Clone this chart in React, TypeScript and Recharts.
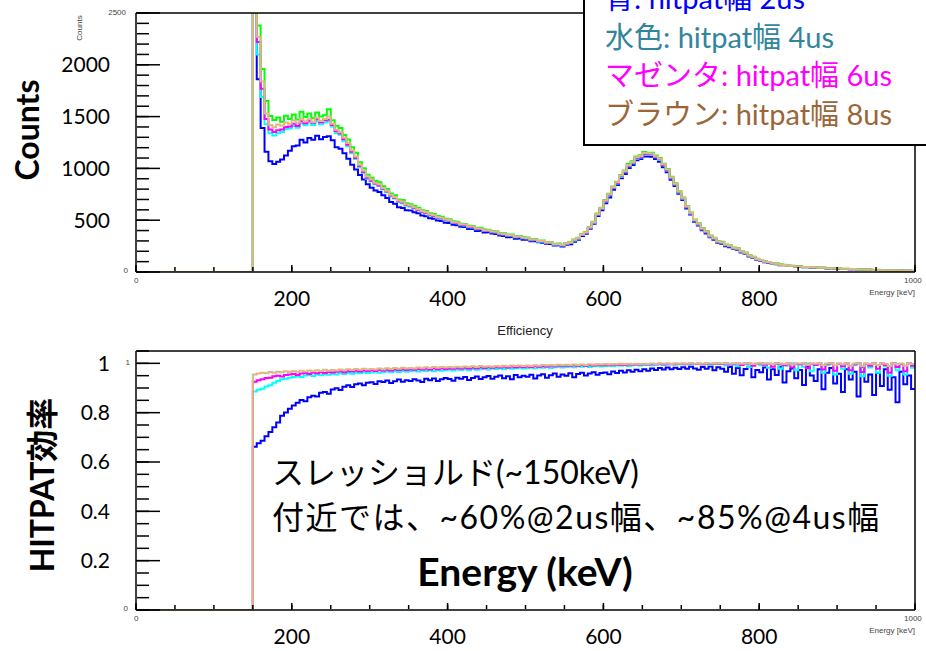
import React from "react";
import { Line, LineChart, XAxis, YAxis } from "recharts";

const FONT = "Lato, 'Noto Sans CJK JP', sans-serif";
const ROOT_FONT = "'Liberation Sans', Arial, sans-serif";

// histogram binning: first bin starts at the threshold, 5 keV per bin
const BIN_START = 150;
const BIN_WIDTH = 5;

// ---- counts per bin (150 .. 995 keV) ----
const blueCounts = [
  3100, 1860, 1390, 1160, 1068, 1042, 1064, 1086, 1124, 1170,
  1214, 1220, 1276, 1250, 1294, 1276, 1314, 1282, 1304, 1310,
  1272, 1205, 1190, 1146, 1094, 1035, 990, 936, 894, 846,
  814, 786, 772, 742, 714, 676, 658, 626, 618, 596,
  594, 576, 568, 546, 538, 520, 514, 496, 492, 476,
  474, 456, 452, 436, 434, 416, 414, 396, 398, 382,
  383, 371, 368, 352, 348, 336, 338, 322, 323, 312,
  312, 297, 298, 286, 283, 272, 270, 257, 258, 247,
  262, 268, 293, 311, 348, 370, 418, 466, 540, 596,
  664, 720, 794, 840, 904, 945, 1004, 1034, 1078, 1090,
  1114, 1116, 1112, 1090, 1064, 1010, 964, 890, 830, 756,
  696, 612, 554, 486, 448, 402, 372, 335, 312, 282,
  272, 249, 240, 221, 214, 189, 175, 150, 137, 118,
  108, 94, 90, 78, 75, 66, 64, 57, 57, 51,
  51, 46, 46, 42, 42, 38, 38, 34, 35, 31,
  32, 29, 29, 26, 27, 23, 24, 21, 21, 19,
  19, 17, 17, 15, 16, 13, 14, 11, 12, 10,
];

const cyanCounts = [
  3250, 2100, 1690, 1425, 1340, 1318, 1340, 1352, 1380, 1386,
  1410, 1392, 1436, 1416, 1446, 1420, 1456, 1426, 1444, 1452,
  1404, 1342, 1324, 1262, 1214, 1146, 1090, 1010, 956, 900,
  874, 846, 830, 796, 770, 730, 710, 676, 664, 640,
  630, 612, 598, 576, 568, 546, 540, 520, 514, 496,
  492, 474, 470, 452, 450, 432, 430, 412, 414, 397,
  396, 383, 381, 364, 362, 349, 351, 335, 337, 325,
  323, 307, 308, 293, 293, 279, 279, 264, 265, 255,
  271, 279, 305, 322, 356, 377, 424, 474, 552, 610,
  680, 740, 810, 855, 920, 962, 1020, 1050, 1094, 1106,
  1134, 1136, 1132, 1108, 1082, 1030, 980, 905, 844, 768,
  707, 624, 564, 496, 459, 412, 384, 343, 321, 289,
  283, 258, 249, 228, 222, 195, 181, 156, 143, 123,
  113, 99, 94, 81, 79, 69, 67, 59, 59, 53,
  53, 47, 47, 44, 44, 40, 40, 36, 37, 33,
  34, 30, 30, 27, 28, 24, 25, 22, 22, 20,
  20, 17, 18, 15, 16, 13, 14, 12, 12, 10,
];

const magentaCounts = [
  3300, 2220, 1770, 1478, 1376, 1352, 1368, 1376, 1400, 1404,
  1430, 1410, 1455, 1436, 1460, 1440, 1474, 1446, 1464, 1470,
  1418, 1362, 1338, 1282, 1228, 1160, 1100, 1022, 966, 910,
  882, 854, 836, 804, 776, 738, 716, 682, 670, 646,
  636, 618, 602, 582, 572, 552, 544, 525, 518, 501,
  496, 478, 474, 456, 454, 436, 434, 416, 417, 400,
  399, 386, 384, 367, 365, 352, 354, 338, 340, 328,
  326, 310, 311, 296, 296, 282, 282, 267, 268, 258,
  274, 282, 308, 325, 359, 380, 428, 478, 556, 614,
  685, 745, 815, 860, 926, 968, 1028, 1056, 1100, 1112,
  1140, 1142, 1138, 1112, 1088, 1034, 985, 910, 848, 772,
  711, 628, 567, 499, 462, 415, 387, 346, 323, 291,
  285, 260, 251, 230, 224, 197, 183, 158, 144, 124,
  114, 100, 95, 82, 79, 70, 67, 60, 59, 53,
  54, 48, 48, 44, 44, 40, 40, 36, 37, 33,
  34, 30, 30, 27, 28, 24, 25, 22, 22, 20,
  20, 17, 18, 16, 16, 13, 14, 12, 12, 10,
];

const greenCounts = [
  3400, 2380, 1960, 1650, 1505, 1468, 1492, 1450, 1508, 1478,
  1520, 1472, 1548, 1496, 1530, 1484, 1540, 1502, 1512, 1570,
  1465, 1412, 1390, 1322, 1280, 1205, 1150, 1060, 1002, 938,
  910, 878, 866, 828, 800, 758, 740, 700, 694, 664,
  655, 636, 620, 596, 590, 566, 560, 540, 534, 515,
  510, 490, 485, 466, 464, 446, 444, 426, 428, 410,
  408, 396, 393, 377, 374, 361, 363, 346, 348, 336,
  333, 317, 318, 302, 303, 287, 288, 272, 274, 262,
  280, 288, 314, 330, 364, 386, 434, 486, 565, 620,
  695, 755, 826, 870, 936, 980, 1042, 1070, 1116, 1128,
  1158, 1152, 1150, 1124, 1100, 1046, 995, 920, 856, 780,
  720, 636, 575, 506, 470, 424, 396, 352, 330, 296,
  292, 266, 258, 236, 230, 202, 188, 162, 148, 128,
  117, 103, 97, 84, 81, 72, 69, 62, 61, 55,
  55, 49, 49, 45, 45, 41, 41, 37, 38, 34,
  35, 31, 31, 28, 29, 25, 26, 23, 23, 20,
  21, 18, 19, 16, 17, 14, 15, 12, 13, 11,
];

const tanCounts = [
  3400, 2270, 1840, 1530, 1418, 1398, 1424, 1412, 1444, 1432,
  1464, 1440, 1480, 1452, 1474, 1448, 1490, 1458, 1476, 1500,
  1432, 1374, 1350, 1298, 1244, 1176, 1116, 1036, 980, 922,
  892, 862, 846, 812, 784, 746, 724, 690, 678, 652,
  642, 624, 608, 588, 578, 558, 550, 530, 524, 506,
  501, 483, 479, 461, 458, 440, 438, 420, 421, 404,
  403, 390, 388, 371, 368, 356, 357, 341, 343, 331,
  329, 313, 314, 299, 299, 285, 285, 270, 271, 260,
  277, 285, 311, 328, 362, 384, 432, 482, 560, 618,
  690, 750, 820, 866, 932, 974, 1034, 1062, 1108, 1120,
  1148, 1146, 1144, 1118, 1094, 1040, 990, 915, 852, 776,
  716, 632, 571, 503, 466, 420, 392, 349, 327, 294,
  288, 263, 254, 233, 227, 200, 186, 160, 146, 126,
  116, 101, 96, 83, 80, 71, 68, 61, 60, 54,
  54, 48, 48, 45, 45, 41, 41, 37, 37, 34,
  35, 31, 31, 28, 28, 25, 25, 22, 23, 20,
  20, 18, 18, 16, 17, 14, 15, 12, 13, 11,
];

// ---- HITPAT efficiency per bin (150 .. 995 keV), lower plot ----
const blueEff = [
  0.662, 0.676, 0.686, 0.704, 0.722, 0.741, 0.76, 0.788, 0.801, 0.816,
  0.829, 0.84, 0.851, 0.846, 0.863, 0.869, 0.866, 0.881, 0.884, 0.877,
  0.894, 0.899, 0.892, 0.905, 0.911, 0.904, 0.915, 0.918, 0.911, 0.921,
  0.923, 0.916, 0.927, 0.924, 0.93, 0.92, 0.927, 0.934, 0.925, 0.931,
  0.928, 0.935, 0.93, 0.924, 0.937, 0.931, 0.939, 0.928, 0.935, 0.941,
  0.936, 0.929, 0.942, 0.938, 0.945, 0.932, 0.941, 0.947, 0.936, 0.944,
  0.949, 0.938, 0.946, 0.951, 0.94, 0.948, 0.935, 0.953, 0.944, 0.95,
  0.946, 0.954, 0.939, 0.951, 0.956, 0.942, 0.952, 0.959, 0.946, 0.955,
  0.95, 0.96, 0.944, 0.957, 0.962, 0.951, 0.959, 0.964, 0.954, 0.961,
  0.963, 0.956, 0.967, 0.961, 0.97, 0.963, 0.972, 0.966, 0.974, 0.968,
  0.976, 0.97, 0.979, 0.973, 0.981, 0.975, 0.983, 0.976, 0.982, 0.977,
  0.984, 0.978, 0.986, 0.979, 0.974, 0.985, 0.978, 0.987, 0.972, 0.984,
  0.978, 0.966, 0.985, 0.958, 0.981, 0.952, 0.977, 0.986, 0.944, 0.973,
  0.964, 0.983, 0.934, 0.976, 0.953, 0.986, 0.922, 0.968, 0.979, 0.94,
  0.973, 0.912, 0.986, 0.951, 0.928, 0.976, 0.895, 0.962, 0.981, 0.918,
  0.958, 0.884, 0.976, 0.934, 0.966, 0.866, 0.986, 0.925, 0.955, 0.872,
  0.961, 0.908, 0.976, 0.893, 0.944, 0.842, 0.966, 0.915, 0.951, 0.896,
];

const cyanEff = [
  0.886, 0.893, 0.897, 0.906, 0.911, 0.921, 0.928, 0.935, 0.937, 0.942,
  0.945, 0.948, 0.945, 0.951, 0.953, 0.949, 0.955, 0.952, 0.957, 0.954,
  0.958, 0.955, 0.96, 0.957, 0.961, 0.958, 0.962, 0.96, 0.964, 0.961,
  0.963, 0.966, 0.962, 0.965, 0.967, 0.964, 0.968, 0.965, 0.969, 0.966,
  0.968, 0.97, 0.967, 0.971, 0.969, 0.972, 0.968, 0.973, 0.97, 0.972,
  0.974, 0.971, 0.975, 0.973, 0.976, 0.972, 0.977, 0.974, 0.976, 0.978,
  0.975, 0.979, 0.977, 0.98, 0.976, 0.981, 0.978, 0.98, 0.982, 0.979,
  0.981, 0.983, 0.98, 0.984, 0.982, 0.985, 0.981, 0.984, 0.986, 0.983,
  0.985, 0.987, 0.984, 0.988, 0.986, 0.989, 0.985, 0.988, 0.99, 0.987,
  0.989, 0.991, 0.988, 0.992, 0.99, 0.993, 0.989, 0.992, 0.994, 0.991,
  0.993, 0.995, 0.992, 0.994, 0.996, 0.993, 0.995, 0.997, 0.994, 0.996,
  0.995, 0.997, 0.994, 0.996, 0.998, 0.995, 0.997, 0.993, 0.998, 0.996,
  0.997, 0.991, 0.998, 0.994, 0.988, 0.997, 0.999, 0.985, 0.996, 0.998,
  0.992, 0.999, 0.982, 0.996, 0.998, 0.978, 0.997, 0.991, 0.999, 0.972,
  0.996, 0.986, 0.999, 0.968, 0.995, 0.998, 0.962, 0.993, 0.999, 0.955,
  0.997, 0.978, 0.999, 0.958, 0.992, 1.0, 0.948, 0.996, 0.983, 0.999,
  0.962, 0.998, 0.988, 0.95, 1.0, 0.972, 0.995, 0.955, 0.999, 0.982,
];

const magentaEff = [
  0.925, 0.931, 0.935, 0.941, 0.942, 0.948, 0.95, 0.947, 0.953, 0.955,
  0.957, 0.953, 0.959, 0.961, 0.957, 0.962, 0.96, 0.964, 0.961, 0.965,
  0.963, 0.966, 0.968, 0.964, 0.969, 0.967, 0.97, 0.967, 0.971, 0.969,
  0.972, 0.969, 0.973, 0.971, 0.974, 0.971, 0.975, 0.973, 0.976, 0.973,
  0.976, 0.974, 0.977, 0.975, 0.978, 0.975, 0.979, 0.976, 0.98, 0.977,
  0.98, 0.978, 0.981, 0.979, 0.982, 0.979, 0.983, 0.98, 0.984, 0.981,
  0.984, 0.982, 0.985, 0.983, 0.986, 0.983, 0.987, 0.984, 0.987, 0.985,
  0.988, 0.985, 0.989, 0.986, 0.989, 0.987, 0.99, 0.988, 0.991, 0.989,
  0.991, 0.989, 0.992, 0.99, 0.993, 0.99, 0.993, 0.991, 0.994, 0.992,
  0.994, 0.992, 0.995, 0.993, 0.995, 0.993, 0.996, 0.994, 0.996, 0.995,
  0.997, 0.995, 0.997, 0.996, 0.998, 0.996, 0.998, 0.996, 0.998, 0.997,
  0.998, 0.996, 0.999, 0.997, 0.998, 0.996, 0.999, 0.997, 0.998, 0.999,
  0.997, 0.999, 0.995, 0.998, 0.999, 0.993, 0.998, 0.999, 0.99, 0.998,
  0.999, 0.994, 0.998, 0.986, 0.999, 0.997, 0.992, 0.999, 0.983, 0.998,
  0.996, 0.999, 0.98, 0.998, 0.993, 0.999, 0.975, 0.997, 0.999, 0.97,
  0.998, 0.988, 0.999, 0.972, 0.996, 1.0, 0.965, 0.998, 0.99, 1.0,
  0.978, 0.999, 0.993, 0.962, 1.0, 0.985, 0.997, 0.968, 1.0, 0.99,
];

const tanEff = [
  0.955, 0.959, 0.962, 0.96, 0.965, 0.962, 0.966, 0.964, 0.968, 0.965,
  0.969, 0.966, 0.97, 0.967, 0.971, 0.968, 0.972, 0.969, 0.974, 0.97,
  0.973, 0.971, 0.975, 0.972, 0.976, 0.973, 0.977, 0.974, 0.978, 0.975,
  0.977, 0.975, 0.979, 0.976, 0.98, 0.977, 0.981, 0.978, 0.982, 0.979,
  0.981, 0.979, 0.983, 0.98, 0.984, 0.981, 0.985, 0.982, 0.985, 0.983,
  0.985, 0.983, 0.986, 0.984, 0.987, 0.985, 0.988, 0.985, 0.989, 0.986,
  0.988, 0.986, 0.989, 0.987, 0.99, 0.988, 0.991, 0.989, 0.991, 0.989,
  0.991, 0.989, 0.992, 0.99, 0.993, 0.991, 0.993, 0.991, 0.994, 0.992,
  0.994, 0.992, 0.995, 0.993, 0.995, 0.993, 0.996, 0.994, 0.996, 0.995,
  0.997, 0.995, 0.997, 0.996, 0.998, 0.996, 0.998, 0.996, 0.998, 0.997,
  0.998, 0.997, 0.999, 0.997, 0.999, 0.998, 0.999, 0.997, 0.999, 0.998,
  0.999, 0.998, 1.0, 0.998, 0.999, 0.998, 1.0, 0.999, 0.999, 1.0,
  0.999, 1.0, 0.998, 0.999, 1.0, 0.998, 0.999, 1.0, 0.997, 0.999,
  1.0, 0.998, 0.999, 0.996, 1.0, 0.999, 0.997, 1.0, 0.995, 0.999,
  0.999, 1.0, 0.994, 0.999, 0.998, 1.0, 0.993, 0.999, 1.0, 0.992,
  0.999, 0.996, 1.0, 0.99, 0.999, 1.0, 0.988, 0.999, 0.997, 1.0,
  0.993, 1.0, 0.998, 0.989, 1.0, 0.996, 0.999, 0.99, 1.0, 0.997,
];

// ---- axis ticks ----
const energyLabels = [200, 400, 600, 800];
const energyMajor = [0, 200, 400, 600, 800, 1000];
const energyMinor = [
  0, 50, 100, 150, 200, 250, 300, 350, 400, 450, 500,
  550, 600, 650, 700, 750, 800, 850, 900, 950, 1000,
];
const countLabels = [500, 1000, 1500, 2000];
const countMajor = [0, 500, 1000, 1500, 2000, 2500];
const countMinor = [
  0, 100, 200, 300, 400, 500, 600, 700, 800, 900, 1000, 1100, 1200,
  1300, 1400, 1500, 1600, 1700, 1800, 1900, 2000, 2100, 2200, 2300, 2400, 2500,
];
const effLabels = [0.2, 0.4, 0.6, 0.8, 1];
const effMajor = [0, 0.2, 0.4, 0.6, 0.8, 1];
const effMinor = [
  0, 0.05, 0.1, 0.15, 0.2, 0.25, 0.3, 0.35, 0.4, 0.45, 0.5,
  0.55, 0.6, 0.65, 0.7, 0.75, 0.8, 0.85, 0.9, 0.95, 1, 1.05,
];

const COLORS = {
  blue: "#0000ff",
  cyan: "#00ffff",
  magenta: "#ff00ff",
  green: "#00ff00",
  tan: "#deb887",
};

type Row = Record<string, number>;

function buildRows(series: Record<string, number[]>): Row[] {
  const keys = Object.keys(series);
  const n = series[keys[0]].length;
  const zero: Row = { e: 0 };
  keys.forEach((k) => (zero[k] = 0));
  const rows: Row[] = [zero];
  for (let i = 0; i < n; i++) {
    const row: Row = { e: BIN_START + i * BIN_WIDTH };
    keys.forEach((k) => (row[k] = series[k][i]));
    rows.push(row);
  }
  // close the last bin at the upper edge
  rows.push({ ...rows[rows.length - 1], e: BIN_START + n * BIN_WIDTH });
  return rows;
}

const countRows = buildRows({
  blue: blueCounts,
  cyan: cyanCounts,
  magenta: magentaCounts,
  green: greenCounts,
  tan: tanCounts,
});

const effRows = buildRows({
  blue: blueEff,
  cyan: cyanEff,
  magenta: magentaEff,
  tan: tanEff,
});

const AXIS = { stroke: "#000", strokeWidth: 1.5 };
const noLabel = () => <g />;

// invisible series so the decoration axes own some data
function ghostLine(xId: string, yId: string) {
  return (
    <Line
      key={`ghost-${xId}-${yId}`}
      xAxisId={xId}
      yAxisId={yId}
      dataKey="tan"
      stroke="none"
      dot={false}
      activeDot={false}
      legendType="none"
      isAnimationActive={false}
    />
  );
}

// ROOT-style frame: ticks pointing inside, big slide-style labels outside
function frameAxes(
  yMax: number,
  yLabels: number[],
  yMajor: number[],
  yMinor: number[],
  yFormat: (v: number) => string
) {
  return [
    <XAxis
      key="x"
      xAxisId="x"
      type="number"
      dataKey="e"
      domain={[0, 1000]}
      allowDataOverflow
      ticks={energyLabels}
      interval={0}
      height={48}
      axisLine={false}
      tickLine={false}
      tickSize={0}
      tickMargin={19}
      tick={{ fill: "#000", fontSize: 21, fontFamily: FONT }}
    />,
    <XAxis
      key="xMaj"
      xAxisId="xMaj"
      type="number"
      dataKey="e"
      domain={[0, 1000]}
      allowDataOverflow
      ticks={energyMajor}
      interval={0}
      mirror
      height={1}
      tick={noLabel}
      tickSize={7}
      axisLine={AXIS}
      tickLine={AXIS}
    />,
    <XAxis
      key="xMin"
      xAxisId="xMin"
      type="number"
      dataKey="e"
      domain={[0, 1000]}
      allowDataOverflow
      ticks={energyMinor}
      interval={0}
      mirror
      height={1}
      tick={noLabel}
      tickSize={4}
      axisLine={false}
      tickLine={AXIS}
    />,
    <XAxis
      key="xTop"
      xAxisId="xTop"
      orientation="top"
      type="number"
      dataKey="e"
      domain={[0, 1000]}
      allowDataOverflow
      ticks={energyMajor}
      mirror
      height={1}
      tick={false}
      tickLine={false}
      axisLine={AXIS}
    />,
    <YAxis
      key="y"
      yAxisId="y"
      type="number"
      domain={[0, yMax]}
      allowDataOverflow
      ticks={yLabels}
      interval={0}
      width={136}
      axisLine={false}
      tickLine={false}
      tickSize={0}
      tickMargin={26}
      tickFormatter={yFormat}
      tick={{ fill: "#000", fontSize: 21, fontFamily: FONT }}
    />,
    <YAxis
      key="yMaj"
      yAxisId="yMaj"
      type="number"
      domain={[0, yMax]}
      allowDataOverflow
      ticks={yMajor}
      interval={0}
      mirror
      width={1}
      tick={noLabel}
      tickSize={24}
      axisLine={AXIS}
      tickLine={AXIS}
    />,
    <YAxis
      key="yMin"
      yAxisId="yMin"
      type="number"
      domain={[0, yMax]}
      allowDataOverflow
      ticks={yMinor}
      interval={0}
      mirror
      width={1}
      tick={noLabel}
      tickSize={12}
      axisLine={false}
      tickLine={AXIS}
    />,
    <YAxis
      key="yRight"
      yAxisId="yRight"
      orientation="right"
      type="number"
      domain={[0, yMax]}
      allowDataOverflow
      ticks={yMajor}
      mirror
      width={1}
      tick={false}
      tickLine={false}
      axisLine={AXIS}
    />,
    ghostLine("xMaj", "yMaj"),
    ghostLine("xMin", "yMin"),
    ghostLine("xTop", "yRight"),
  ];
}

function histLine(key: keyof typeof COLORS) {
  return (
    <Line
      key={key}
      xAxisId="x"
      yAxisId="y"
      dataKey={key}
      type="stepAfter"
      stroke={COLORS[key]}
      strokeWidth={2}
      dot={false}
      activeDot={false}
      isAnimationActive={false}
    />
  );
}

const abs = (style: React.CSSProperties): React.CSSProperties => ({
  position: "absolute",
  whiteSpace: "nowrap",
  ...style,
});

const tiny: React.CSSProperties = {
  fontFamily: ROOT_FONT,
  fontSize: 8,
  color: "#444",
  lineHeight: "10px",
};

const legendLines = [
  { text: "青: hitpat幅 2us", color: "#0000ff" },
  { text: "水色: hitpat幅 4us", color: "#31859c" },
  { text: "マゼンタ: hitpat幅 6us", color: "#ff00ff" },
  { text: "ブラウン: hitpat幅 8us", color: "#9a6637" },
];

export default function App() {
  return (
    <div
      style={{
        position: "absolute",
        left: 0,
        top: 0,
        width: 926,
        height: 651,
        overflow: "hidden",
        background: "#fff",
        fontFamily: FONT,
      }}
    >
      {/* counts spectrum */}
      <div style={abs({ left: 0, top: 0 })}>
        <LineChart
          width={926}
          height={320}
          data={countRows}
          margin={{ top: 13, right: 11, bottom: 0, left: 0 }}
        >
          {frameAxes(2500, countLabels, countMajor, countMinor, (v) => String(v))}
          {histLine("blue")}
          {histLine("cyan")}
          {histLine("magenta")}
          {histLine("green")}
          {histLine("tan")}
        </LineChart>
      </div>

      {/* efficiency */}
      <div style={abs({ left: 0, top: 338 })}>
        <LineChart
          width={926}
          height={320}
          data={effRows}
          margin={{ top: 13, right: 11, bottom: 0, left: 0 }}
        >
          {frameAxes(1.05, effLabels, effMajor, effMinor, (v) =>
            v === 1 ? "1" : v.toFixed(1)
          )}
          {histLine("blue")}
          {histLine("cyan")}
          {histLine("magenta")}
          {histLine("tan")}
        </LineChart>
      </div>

      {/* small ROOT labels */}
      <div style={abs({ ...tiny, right: 926 - 126, top: 8 })}>2500</div>
      <div style={abs({ ...tiny, right: 926 - 128, top: 266 })}>0</div>
      <div style={abs({ ...tiny, left: 134, top: 276 })}>0</div>
      <div style={abs({ ...tiny, left: 904, top: 276 })}>1000</div>
      <div style={abs({ ...tiny, right: 926 - 915, top: 288 })}>Energy [keV]</div>
      <div
        style={abs({
          ...tiny,
          left: 80,
          top: 28,
          transform: "translate(-50%, -50%) rotate(-90deg)",
        })}
      >
        Counts
      </div>
      <div style={abs({ ...tiny, right: 926 - 130, top: 358 })}>1</div>
      <div style={abs({ ...tiny, right: 926 - 128, top: 604 })}>0</div>
      <div style={abs({ ...tiny, left: 134, top: 614 })}>0</div>
      <div style={abs({ ...tiny, left: 904, top: 614 })}>1000</div>
      <div style={abs({ ...tiny, right: 926 - 915, top: 626 })}>Energy [keV]</div>
      <div
        style={abs({
          fontFamily: ROOT_FONT,
          fontSize: 13,
          color: "#222",
          left: 525,
          top: 330,
          transform: "translate(-50%, -50%)",
        })}
      >
        Efficiency
      </div>

      {/* slide annotations */}
      <div
        style={abs({
          left: 26,
          top: 130,
          fontSize: 32,
          fontWeight: 700,
          color: "#000",
          transform: "translate(-50%, -50%) rotate(-90deg)",
        })}
      >
        Counts
      </div>
      <div
        style={abs({
          left: 40,
          top: 485,
          fontSize: 32,
          fontWeight: 700,
          color: "#000",
          transform: "translate(-50%, -50%) rotate(-90deg)",
        })}
      >
        HITPAT効率
      </div>

      <div
        style={abs({
          left: 272,
          top: 472,
          fontSize: 32,
          lineHeight: "40px",
          color: "#000",
          transform: "translateY(-50%)",
        })}
      >
        スレッショルド(~150keV)
      </div>
      <div
        style={abs({
          left: 272,
          top: 517,
          fontSize: 32,
          lineHeight: "40px",
          letterSpacing: 1.5,
          color: "#000",
          transform: "translateY(-50%)",
        })}
      >
        付近では、~60%@2us幅、~85%@4us幅
      </div>
      <div
        style={abs({
          left: 525,
          top: 571,
          fontSize: 39,
          fontWeight: 700,
          lineHeight: "46px",
          color: "#000",
          transform: "translate(-50%, -50%)",
        })}
      >
        Energy (keV)
      </div>

      {/* colour key box */}
      <div
        style={abs({
          left: 583,
          top: -4,
          width: 360,
          height: 146,
          border: "2px solid #000",
          background: "#fff",
          overflow: "hidden",
        })}
      >
        <div style={{ position: "absolute", left: 20, top: -19 }}>
          {legendLines.map((l) => (
            <div
              key={l.text}
              style={{
                color: l.color,
                fontSize: 29,
                lineHeight: "38.5px",
                whiteSpace: "nowrap",
              }}
            >
              {l.text}
            </div>
          ))}
        </div>
      </div>
    </div>
  );
}
